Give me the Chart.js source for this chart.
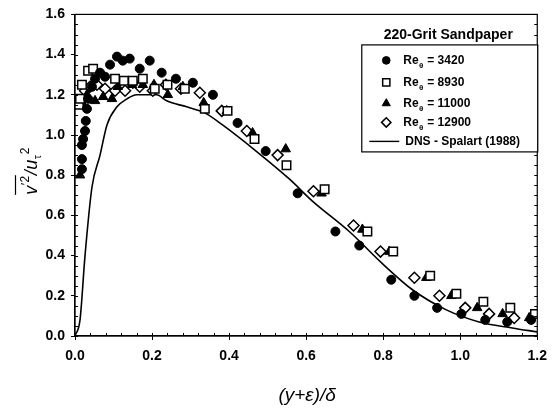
<!DOCTYPE html>
<html lang="en">
<head>
<meta charset="UTF-8">
<title>Wall-normal stress, 220-grit sandpaper</title>
<script src="https://cdn.jsdelivr.net/npm/chart.js@4.4.3/dist/chart.umd.min.js"></script>
<style>
  html, body { margin: 0; padding: 0; background: #fff; }
</style>
</head>
<body>
<canvas id="chart" width="555" height="408"></canvas>
<script>
// measured profiles, x = (y+eps)/delta, y = v'^2/u_tau^2
const re3420X = [0.018, 0.018, 0.018, 0.021, 0.026, 0.028, 0.031, 0.034, 0.044, 0.052, 0.065, 0.078, 0.091, 0.109, 0.124, 0.142, 0.168, 0.194, 0.225, 0.262, 0.306, 0.358, 0.422, 0.495, 0.578, 0.676, 0.738, 0.821, 0.881, 0.940, 1.003, 1.065, 1.122, 1.184];
const re3420Y = [0.83, 0.88, 0.95, 0.98, 1.02, 1.07, 1.13, 1.18, 1.24, 1.28, 1.31, 1.29, 1.35, 1.39, 1.37, 1.38, 1.33, 1.37, 1.31, 1.28, 1.26, 1.20, 1.06, 0.92, 0.71, 0.52, 0.45, 0.28, 0.20, 0.14, 0.11, 0.08, 0.07, 0.08];

const re8930X = [0.010, 0.013, 0.018, 0.034, 0.047, 0.104, 0.127, 0.150, 0.176, 0.207, 0.240, 0.285, 0.337, 0.396, 0.466, 0.549, 0.648, 0.759, 0.826, 0.922, 0.990, 1.060, 1.130, 1.194];
const re8930Y = [1.15, 1.18, 1.25, 1.32, 1.33, 1.28, 1.27, 1.27, 1.28, 1.23, 1.25, 1.23, 1.13, 1.12, 0.98, 0.85, 0.73, 0.52, 0.42, 0.30, 0.21, 0.17, 0.14, 0.11];

const re11000X = [0.013, 0.021, 0.031, 0.052, 0.073, 0.096, 0.111, 0.148, 0.176, 0.205, 0.241, 0.280, 0.334, 0.394, 0.461, 0.547, 0.640, 0.746, 0.816, 0.912, 0.977, 1.044, 1.110, 1.179];
const re11000Y = [0.80, 1.15, 1.20, 1.17, 1.19, 1.18, 1.24, 1.25, 1.25, 1.25, 1.20, 1.24, 1.16, 1.12, 1.01, 0.93, 0.71, 0.53, 0.42, 0.29, 0.20, 0.14, 0.11, 0.09];

const re12900X = [0.010, 0.026, 0.039, 0.057, 0.078, 0.104, 0.130, 0.150, 0.168, 0.202, 0.236, 0.275, 0.324, 0.381, 0.446, 0.526, 0.619, 0.723, 0.793, 0.881, 0.946, 1.013, 1.075, 1.140];
const re12900Y = [1.16, 1.22, 1.24, 1.25, 1.23, 1.22, 1.22, 1.26, 1.24, 1.22, 1.25, 1.23, 1.21, 1.12, 1.02, 0.90, 0.72, 0.55, 0.42, 0.29, 0.20, 0.14, 0.11, 0.09];

// DNS of Spalart (1988)
const dnsX = [0, 0.013, 0.026, 0.044, 0.065, 0.083, 0.109, 0.135, 0.160, 0.212, 0.238, 0.290, 0.337, 0.383, 0.470, 0.557, 0.617, 0.712, 0.798, 0.876, 0.964, 1.049, 1.135, 1.200];
const dnsY = [0, 0.08, 0.40, 0.74, 0.90, 1.05, 1.14, 1.18, 1.20, 1.20, 1.17, 1.14, 1.11, 1.05, 0.92, 0.78, 0.67, 0.52, 0.36, 0.23, 0.13, 0.07, 0.04, 0.02];

const xTicks = [0, 0.2, 0.4, 0.6, 0.8, 1.0, 1.2];
const yTicks = [0, 0.2, 0.4, 0.6, 0.8, 1.0, 1.2, 1.4, 1.6];

const seriesLabels = ['3420', '8930', '11000', '12900'];
const dnsLabel = 'DNS - Spalart (1988)';
const legendTitle = '220-Grit Sandpaper';

const pts = (xs, ys) => xs.map((x, i) => ({ x: x, y: ys[i] }));

const datasets = [
  { data: pts(re3420X, re3420Y), pointStyle: 'circle', pointRadius: 4.5, backgroundColor: '#000', borderColor: '#000', borderWidth: 1, showLine: false },
  { data: pts(re8930X, re8930Y), pointStyle: 'rect', pointRadius: 6, backgroundColor: '#fff', borderColor: '#000', borderWidth: 1.5, showLine: false },
  { data: pts(re11000X, re11000Y), pointStyle: 'triangle', pointRadius: 5.5, backgroundColor: '#000', borderColor: '#000', borderWidth: 1, showLine: false },
  { data: pts(re12900X, re12900Y), pointStyle: 'rectRot', pointRadius: 5.5, backgroundColor: '#fff', borderColor: '#000', borderWidth: 1.5, showLine: false },
  { data: pts(dnsX, dnsY), showLine: true, pointRadius: 0, borderColor: '#000', borderWidth: 1.6, fill: false, cubicInterpolationMode: 'monotone' }
];

// box outline plus the small inside ticks
const frameTicks = {
  id: 'frameTicks',
  afterDraw(chart) {
    const { ctx, chartArea: a, scales: { x, y } } = chart;
    ctx.save();
    ctx.strokeStyle = '#000';
    ctx.lineWidth = 1.2;
    ctx.strokeRect(a.left, a.top, a.right - a.left, a.bottom - a.top);
    ctx.lineWidth = 1;
    ctx.beginPath();
    for (let i = 0; i <= 32; i++) {
      const py = Math.round(y.getPixelForValue(i * 0.05)) + 0.5;
      ctx.moveTo(a.left, py); ctx.lineTo(a.left + 3, py);
      ctx.moveTo(a.right, py); ctx.lineTo(a.right - 3, py);
    }
    for (let i = 0; i <= 30; i++) {
      const px = Math.round(x.getPixelForValue(i * 0.04)) + 0.5;
      ctx.moveTo(px, a.bottom); ctx.lineTo(px, a.bottom - 3);
    }
    ctx.stroke();
    ctx.restore();
  }
};

// axis titles with super/subscripts
const axisTitles = {
  id: 'axisTitles',
  afterDraw(chart) {
    const { ctx, chartArea: a } = chart;
    ctx.save();
    ctx.fillStyle = '#000';
    ctx.textBaseline = 'alphabetic';

    ctx.font = 'italic 19px Arial';
    ctx.textAlign = 'center';
    ctx.fillText('(y+\u03b5)/\u03b4', (a.left + a.right) / 2 + 1, 401);

    ctx.translate(37, 171);
    ctx.rotate(-Math.PI / 2);
    ctx.textAlign = 'left';
    const big = 'italic 18px Arial', sup = '12px Arial', sub = '11px Arial';
    const parts = [
      ['v', big, 0], ['\u2032', '13px Arial', -7], ['2', sup, -8], ['/', big, 0],
      ['u', big, 0], ['\u03c4', sub, 4], ['2', sup, -8]
    ];
    let w = 0;
    parts.forEach(p => { ctx.font = p[1]; w += ctx.measureText(p[0]).width + 0.5; });
    let cx = -w / 2;
    let overEnd = 0;
    parts.forEach((p, i) => {
      ctx.font = p[1];
      ctx.fillText(p[0], cx, p[2]);
      cx += ctx.measureText(p[0]).width + 0.5;
      if (i === 2) overEnd = cx;
    });
    ctx.lineWidth = 1.2;
    ctx.beginPath();
    ctx.moveTo(-w / 2, -21.5);
    ctx.lineTo(overEnd, -21.5);
    ctx.stroke();
    ctx.restore();
  }
};

// legend box in the upper right corner
const legendBox = {
  id: 'legendBox',
  afterDraw(chart) {
    const { ctx, chartArea: a } = chart;
    const boxL = a.right - 176, boxT = a.top + 30, boxB = a.top + 137;
    ctx.save();
    ctx.fillStyle = '#000';
    ctx.strokeStyle = '#000';

    ctx.font = 'bold 14px Arial';
    ctx.textAlign = 'center';
    ctx.textBaseline = 'middle';
    ctx.fillText(legendTitle, (boxL + a.right) / 2 - 1, a.top + 21);

    ctx.lineWidth = 1.2;
    ctx.fillStyle = '#fff';
    ctx.fillRect(boxL, boxT, a.right - boxL, boxB - boxT);
    ctx.strokeRect(boxL + 0.5, boxT + 0.5, a.right - boxL, boxB - boxT);

    const symX = boxL + 25, textX = boxL + 42;
    const rows = [a.top + 46, a.top + 68, a.top + 89, a.top + 108];
    ctx.textAlign = 'left';
    seriesLabels.forEach((lab, i) => {
      const ds = datasets[i];
      ctx.fillStyle = ds.backgroundColor;
      ctx.strokeStyle = ds.borderColor;
      ctx.lineWidth = ds.borderWidth;
      Chart.helpers.drawPoint(ctx, { pointStyle: ds.pointStyle, radius: ds.pointRadius * 0.85, rotation: 0, borderWidth: ds.borderWidth }, symX, rows[i]);
      ctx.fillStyle = '#000';
      ctx.font = 'bold 12px Arial';
      ctx.textBaseline = 'middle';
      ctx.fillText('Re', textX, rows[i]);
      const wRe = ctx.measureText('Re').width;
      ctx.font = 'bold 8px Arial';
      ctx.fillText('\u03b8', textX + wRe + 0.5, rows[i] + 5);
      const wTh = ctx.measureText('\u03b8').width;
      ctx.font = 'bold 12px Arial';
      ctx.fillText(' = ' + lab, textX + wRe + wTh + 1, rows[i]);
    });

    const dnsRow = a.top + 127;
    ctx.lineWidth = 1.4;
    ctx.beginPath();
    ctx.moveTo(boxL + 8, dnsRow);
    ctx.lineTo(boxL + 38, dnsRow);
    ctx.stroke();
    ctx.fillText(dnsLabel, textX + 2, dnsRow);
    ctx.restore();
  }
};

const tickFont = { family: 'Arial', size: 14, weight: 'bold' };

new Chart(document.getElementById('chart'), {
  type: 'scatter',
  data: { datasets: datasets },
  options: {
    responsive: false,
    animation: false,
    events: [],
    layout: { padding: { top: 11, right: 17, left: 0, bottom: 0 } },
    plugins: { legend: { display: false }, tooltip: { enabled: false } },
    scales: {
      x: {
        type: 'linear', min: 0, max: 1.2,
        afterBuildTicks: s => { s.ticks = xTicks.map(v => ({ value: v })); },
        afterFit: s => { s.height = 72; },
        grid: { drawOnChartArea: false, color: '#000', tickLength: 4, lineWidth: 1 },
        border: { color: '#000', width: 1.2 },
        ticks: { color: '#000', font: tickFont, padding: 8, maxRotation: 0, callback: v => v.toFixed(1) }
      },
      y: {
        type: 'linear', min: 0, max: 1.6,
        afterBuildTicks: s => { s.ticks = yTicks.map(v => ({ value: v })); },
        afterFit: s => { s.width = 75; },
        grid: { drawOnChartArea: false, color: '#000', tickLength: 4, lineWidth: 1 },
        border: { color: '#000', width: 1.2 },
        ticks: { color: '#000', font: tickFont, padding: 6, callback: v => v.toFixed(1) }
      }
    }
  },
  plugins: [frameTicks, axisTitles, legendBox]
});
</script>
</body>
</html>
